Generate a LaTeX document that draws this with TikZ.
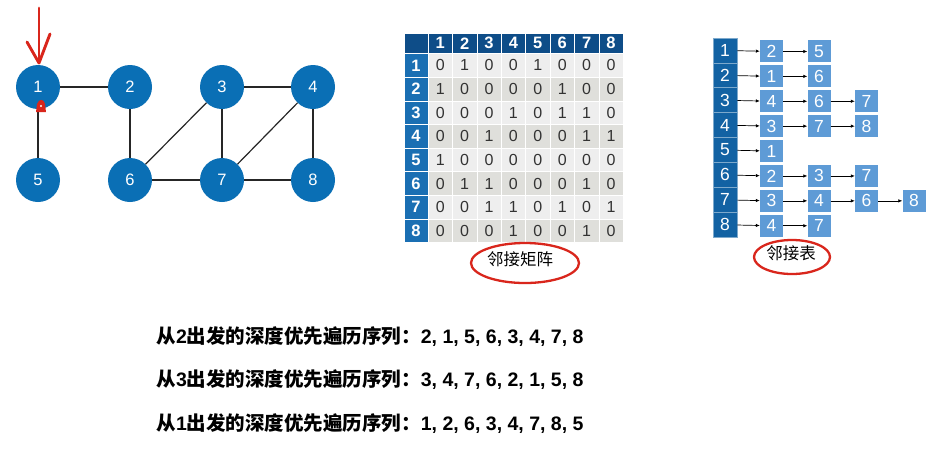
\documentclass[tikz,border=0pt]{standalone}
\usepackage{fontspec}
\setmainfont{Liberation Sans}
\newfontfamily\cjk{Noto Sans CJK SC}
\newcommand{\zh}[1]{{\cjk #1}}
\usetikzlibrary{arrows.meta, positioning}

\definecolor{nodeblue}{HTML}{0A6FB5}
\definecolor{headdark}{HTML}{0E4D88}
\definecolor{headblue}{HTML}{1A6FB3}
\definecolor{cellA}{HTML}{EEEEEE}
\definecolor{cellB}{HTML}{DFDFDB}
\definecolor{listhead}{HTML}{1262A3}
\definecolor{listbox}{HTML}{5E9BD6}
\definecolor{markred}{HTML}{D9261C}

\begin{document}
\begin{tikzpicture}[x=1pt, y=-1pt,
			vertex/.style={circle, fill=nodeblue, text=white, minimum size=44pt, inner sep=0pt, font=\fontsize{16.5}{16.5}\selectfont},
			edge/.style={line width=1.2pt, black!85},
			colhead/.style={fill=headdark, draw=white, line width=0.6pt, text=white, minimum width=24.4pt, minimum height=20.5pt, inner sep=0pt, font=\fontsize{16.5}{16.5}\selectfont\bfseries},
			rowhead/.style={fill=headblue, draw=white, line width=0.6pt, text=white, minimum width=24pt, minimum height=23.65pt, inner sep=0pt, font=\fontsize{16.5}{16.5}\selectfont\bfseries},
			cell/.style={draw=white, line width=0.6pt, text=black!80, minimum width=24.4pt, minimum height=23.65pt, inner sep=0pt, font=\fontsize{16}{16}\selectfont},
			listhd/.style={fill=listhead, draw=white!45!listhead, line width=0.8pt, text=white, minimum width=24pt, minimum height=24.9pt, inner sep=0pt, font=\fontsize{17.5}{17.5}\selectfont},
			listitem/.style={fill=listbox, text=white, minimum width=23pt, minimum height=22pt, inner sep=0pt, font=\fontsize{17.5}{17.5}\selectfont},
			link/.style={-{Latex[length=4pt, width=3.5pt]}, line width=0.7pt},
			redmark/.style={markred, line width=2.9pt, line cap=round, line join=round},
			caption/.style={font=\cjk\fontsize{16.5}{16.5}\selectfont},
			seqtext/.style={anchor=west, font=\fontsize{19.5}{19.5}\selectfont\bfseries}
			]
			
			\path[fill=white, use as bounding box] (0,0) rectangle (941,467);
			
			% --- Graph ---
			\node[vertex] (v1) at (38,87) {1};
			\node[vertex] (v2) at (130,87) {2};
			\node[vertex] (v3) at (222,87) {3};
			\node[vertex] (v4) at (313,87) {4};
			\node[vertex] (v5) at (38,180) {5};
			\node[vertex] (v6) at (130,180) {6};
			\node[vertex] (v7) at (222,180) {7};
			\node[vertex] (v8) at (313,180) {8};
			
			\draw[edge] (v1) -- (v2);
			\draw[edge] (v1) -- (v5);
			\draw[edge] (v2) -- (v6);
			\draw[edge] (v3) -- (v4);
			\draw[edge] (v3) -- (v6);
			\draw[edge] (v3) -- (v7);
			\draw[edge] (v4) -- (v7);
			\draw[edge] (v4) -- (v8);
			\draw[edge] (v6) -- (v7);
			\draw[edge] (v7) -- (v8);
			
			% --- Red marks on start vertex ---
			\draw[redmark] (39,8) -- (39,62);
			\draw[redmark] (27,42) -- (39,63) -- (50,34);
			\fill[markred] (36,112) -- (37,104) .. controls (39,98) and (44,99) .. (45,104) -- (46,112) -- cycle;
			\fill[white] (41,106) circle (1.1pt);
			
			% --- Adjacency matrix ---
			\node[colhead] (corner) at (416,43.25) {};
			\foreach \c in {1,...,8}
				\node[colhead] (c-\c) at ({428+24.4*(\c-0.5)},43.25) {\c};
			\foreach \rowvals [count=\r] in {{0,1,0,0,1,0,0,0},{1,0,0,0,0,1,0,0},{0,0,0,1,0,1,1,0},{0,0,1,0,0,0,1,1},
				{1,0,0,0,0,0,0,0},{0,1,1,0,0,0,1,0},{0,0,1,1,0,1,0,1},{0,0,0,1,0,0,1,0}} {
				\pgfmathsetmacro\yy{53.5+23.65*(\r-0.5)}
				\ifodd\r\relax \def\shade{cellA}\else \def\shade{cellB}\fi
				\node[rowhead] (r-\r) at (416,\yy) {\r};
				\foreach \v [count=\c] in \rowvals
					\node[cell, fill=\shade] (m-\r-\c) at ({428+24.4*(\c-0.5)},\yy) {\v};
			}
			
			\node[caption] (mlabel) at (520,259) {邻接矩阵};
			\draw[redmark, line width=2.3pt] (525,263) ellipse [x radius=54pt, y radius=20pt];
			
			% --- Adjacency list ---
			\foreach \lst [count=\r] in {{2,5},{1,6},{4,6,7},{3,7,8},{1},{2,3,7},{3,4,6,8},{4,7}} {
				\pgfmathsetmacro\yy{38+24.9*(\r-0.5)}
				\node[listhd] (l-\r-0) at (725,\yy) {\r};
				\foreach \v [count=\c, remember=\c as \p (initially 0)] in \lst {
					\node[listitem] (l-\r-\c) at ({771.5+47.5*(\c-1)},\yy+1) {\v};
					\draw[link] (l-\r-\p) -- (l-\r-\c);
				}
			}
			
			\node[caption] (llabel) at (791,253) {邻接表};
			\draw[redmark, line width=2.3pt] (792,257) ellipse [x radius=38pt, y radius=17pt];
			
			% --- DFS sequences ---
			\node[seqtext] (s2) at (153,337) {\zh{从}2\zh{出发的深度优先遍历序列：}2, 1, 5, 6, 3, 4, 7, 8};
			\node[seqtext] (s3) at (153,380) {\zh{从}3\zh{出发的深度优先遍历序列：}3, 4, 7, 6, 2, 1, 5, 8};
			\node[seqtext] (s1) at (153,424) {\zh{从}1\zh{出发的深度优先遍历序列：}1, 2, 6, 3, 4, 7, 8, 5};
			
\end{tikzpicture}
\end{document}
